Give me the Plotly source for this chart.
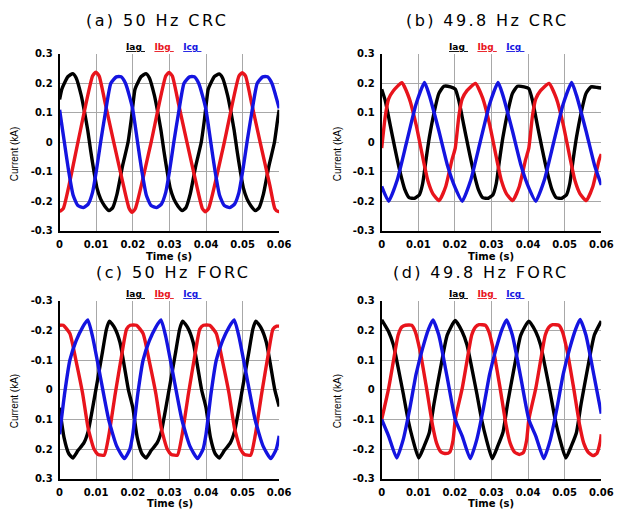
import plotly.graph_objects as go

# ---------------- data ----------------
TIME_TICKS = [0, 0.01, 0.02, 0.03, 0.04, 0.05, 0.06]
TIME_LABELS = ["0", "0.01", "0.02", "0.03", "0.04", "0.05", "0.06"]
CURRENT_TICKS = [0.3, 0.2, 0.1, 0, -0.1, -0.2, -0.3]
CURRENT_LABELS = ["0.3", "0.2", "0.1", "0", "-0.1", "-0.2", "-0.3"]
SERIES_NAMES = ["Iag", "Ibg", "Icg"]
PANEL_TITLES = ["(a) 50 Hz CRC", "(b) 49.8 Hz CRC", "(c) 50 Hz FORC", "(d) 49.8 Hz FORC"]
X_TITLE = "Time (s)"
Y_TITLE = "Current (kA)"

# (a) 50 Hz CRC
A_IAG_T = [0.0000, 0.0006, 0.0014, 0.0023, 0.0036, 0.0045, 0.0059, 0.0068, 0.0077, 0.0085, 0.0094, 0.0102, 0.0112, 0.0123, 0.0135, 0.0145, 0.0157, 0.0172, 0.0187, 0.0196,
           0.0206, 0.0214, 0.0223, 0.0236, 0.0245, 0.0259, 0.0268, 0.0277, 0.0285, 0.0294, 0.0302, 0.0312, 0.0323, 0.0335, 0.0345, 0.0357, 0.0372, 0.0387, 0.0396,
           0.0406, 0.0414, 0.0423, 0.0436, 0.0445, 0.0459, 0.0468, 0.0477, 0.0485, 0.0494, 0.0502, 0.0512, 0.0523, 0.0535, 0.0545, 0.0557, 0.0572, 0.0587, 0.0596, 0.0600]
A_IAG = [0.145, 0.180, 0.203, 0.223, 0.233, 0.219, 0.159, 0.103, 0.040, -0.030, -0.100, -0.155, -0.192, -0.216, -0.232, -0.222, -0.175, -0.080, 0.000, 0.080,
         0.180, 0.203, 0.223, 0.233, 0.219, 0.159, 0.103, 0.040, -0.030, -0.100, -0.155, -0.192, -0.216, -0.232, -0.222, -0.175, -0.080, 0.000, 0.080,
         0.180, 0.203, 0.223, 0.232, 0.219, 0.159, 0.103, 0.040, -0.030, -0.100, -0.155, -0.192, -0.216, -0.232, -0.222, -0.175, -0.080, 0.000, 0.080, 0.110]
A_IBG_T = [0.0000, 0.0010, 0.0050, 0.0090, 0.0099, 0.0108, 0.0125, 0.0148, 0.0175, 0.0190, 0.0198, 0.0207, 0.0250, 0.0290, 0.0299, 0.0308,
           0.0325, 0.0348, 0.0375, 0.0390, 0.0398, 0.0407, 0.0450, 0.0490, 0.0499, 0.0508, 0.0525, 0.0548, 0.0575, 0.0588, 0.0597, 0.0600]
A_IBG = [-0.235, -0.225, 0.000, 0.225, 0.238, 0.225, 0.130, 0.000, -0.150, -0.225, -0.238, -0.225, 0.000, 0.225, 0.237, 0.225,
         0.130, 0.000, -0.150, -0.225, -0.236, -0.225, 0.000, 0.225, 0.236, 0.225, 0.130, 0.000, -0.150, -0.225, -0.235, -0.235]
A_ICG_T = [0.0000, 0.0013, 0.0025, 0.0037, 0.0050, 0.0065, 0.0078, 0.0090, 0.0100, 0.0112, 0.0125, 0.0140, 0.0155, 0.0168, 0.0180, 0.0190,
           0.0200, 0.0213, 0.0225, 0.0237, 0.0250, 0.0265, 0.0278, 0.0290, 0.0300, 0.0312, 0.0325, 0.0340, 0.0355, 0.0368, 0.0380, 0.0390,
           0.0400, 0.0413, 0.0425, 0.0437, 0.0450, 0.0465, 0.0478, 0.0490, 0.0500, 0.0512, 0.0525, 0.0540, 0.0555, 0.0568, 0.0580, 0.0590, 0.0600]
A_ICG = [0.110, 0.000, -0.100, -0.180, -0.215, -0.222, -0.210, -0.170, -0.100, 0.000, 0.100, 0.200, 0.222, 0.222, 0.200, 0.160,
         0.110, 0.000, -0.100, -0.180, -0.215, -0.222, -0.210, -0.170, -0.100, 0.000, 0.100, 0.200, 0.222, 0.222, 0.200, 0.160,
         0.110, 0.000, -0.100, -0.180, -0.215, -0.222, -0.210, -0.170, -0.100, 0.000, 0.100, 0.200, 0.222, 0.222, 0.200, 0.160, 0.115]

# (b) 49.8 Hz CRC
B_IAG_T = [0.0000, 0.0010, 0.0023, 0.0036, 0.0050, 0.0063, 0.0075, 0.0090, 0.0103, 0.0112, 0.0121, 0.0130, 0.0143, 0.0156, 0.0170, 0.0188,
           0.0201, 0.0211, 0.0224, 0.0237, 0.0251, 0.0264, 0.0276, 0.0291, 0.0304, 0.0313, 0.0322, 0.0331, 0.0344, 0.0357, 0.0371, 0.0389,
           0.0402, 0.0412, 0.0425, 0.0438, 0.0452, 0.0465, 0.0477, 0.0492, 0.0505, 0.0514, 0.0523, 0.0532, 0.0545, 0.0558, 0.0572, 0.0590, 0.0600]
B_IAG = [0.180, 0.140, 0.060, -0.020, -0.100, -0.160, -0.188, -0.190, -0.178, -0.140, -0.060, 0.015, 0.100, 0.165, 0.190, 0.188,
         0.180, 0.140, 0.060, -0.020, -0.100, -0.160, -0.188, -0.190, -0.178, -0.140, -0.060, 0.015, 0.100, 0.165, 0.190, 0.188,
         0.182, 0.142, 0.060, -0.020, -0.100, -0.160, -0.188, -0.190, -0.178, -0.140, -0.060, 0.015, 0.100, 0.165, 0.188, 0.186, 0.184]
B_IBG_T = [0.0000, 0.0010, 0.0019, 0.0032, 0.0055, 0.0075, 0.0094, 0.0112, 0.0126, 0.0140, 0.0157, 0.0175, 0.0192,
           0.0201, 0.0211, 0.0220, 0.0233, 0.0256, 0.0276, 0.0295, 0.0313, 0.0327, 0.0341, 0.0358, 0.0376, 0.0393,
           0.0402, 0.0412, 0.0421, 0.0434, 0.0457, 0.0477, 0.0496, 0.0514, 0.0528, 0.0542, 0.0559, 0.0577, 0.0594, 0.0600]
B_IBG = [-0.020, 0.090, 0.147, 0.175, 0.202, 0.150, 0.060, -0.050, -0.130, -0.175, -0.198, -0.150, -0.060,
         -0.020, 0.090, 0.147, 0.175, 0.200, 0.150, 0.060, -0.050, -0.130, -0.175, -0.198, -0.150, -0.060,
         -0.020, 0.090, 0.147, 0.175, 0.200, 0.150, 0.060, -0.050, -0.130, -0.175, -0.198, -0.150, -0.060, -0.040]
B_ICG_T = [0.0000, 0.0019, 0.0042, 0.0068, 0.0094, 0.0117, 0.0130, 0.0156, 0.0180,
           0.0201, 0.0220, 0.0243, 0.0269, 0.0295, 0.0318, 0.0331, 0.0357, 0.0381,
           0.0402, 0.0421, 0.0444, 0.0470, 0.0496, 0.0519, 0.0532, 0.0558, 0.0582, 0.0600]
B_ICG = [-0.150, -0.200, -0.130, 0.000, 0.130, 0.203, 0.160, 0.040, -0.080,
         -0.155, -0.200, -0.130, 0.000, 0.130, 0.203, 0.160, 0.040, -0.080,
         -0.155, -0.200, -0.130, 0.000, 0.130, 0.203, 0.160, 0.040, -0.080, -0.145]

# (c) 50 Hz FORC (plotted on a reversed current axis)
C_IAG_T = [0.0000, 0.0012, 0.0025, 0.0036, 0.0050, 0.0066, 0.0078, 0.0099, 0.0116, 0.0128, 0.0136, 0.0150, 0.0165, 0.0188,
           0.0200, 0.0212, 0.0225, 0.0236, 0.0250, 0.0266, 0.0278, 0.0299, 0.0316, 0.0328, 0.0336, 0.0350, 0.0365, 0.0388,
           0.0400, 0.0412, 0.0425, 0.0436, 0.0450, 0.0466, 0.0478, 0.0499, 0.0516, 0.0528, 0.0536, 0.0550, 0.0565, 0.0588, 0.0600]
C_IAG = [0.060, 0.160, 0.215, 0.230, 0.205, 0.180, 0.140, 0.000, -0.120, -0.205, -0.232, -0.210, -0.160, 0.000,
         0.060, 0.160, 0.215, 0.230, 0.205, 0.180, 0.140, 0.000, -0.120, -0.205, -0.232, -0.210, -0.160, 0.000,
         0.060, 0.160, 0.215, 0.230, 0.205, 0.180, 0.140, 0.000, -0.120, -0.205, -0.232, -0.210, -0.160, 0.000, 0.056]
C_IBG_T = [0.0000, 0.0010, 0.0028, 0.0045, 0.0063, 0.0078, 0.0094, 0.0105, 0.0122, 0.0135, 0.0152, 0.0170, 0.0183, 0.0193,
           0.0210, 0.0228, 0.0245, 0.0263, 0.0278, 0.0294, 0.0305, 0.0322, 0.0335, 0.0352, 0.0370, 0.0383, 0.0393,
           0.0410, 0.0428, 0.0445, 0.0463, 0.0478, 0.0494, 0.0505, 0.0522, 0.0535, 0.0552, 0.0570, 0.0583, 0.0593, 0.0600]
C_IBG = [-0.218, -0.218, -0.190, -0.097, 0.013, 0.130, 0.200, 0.218, 0.220, 0.150, 0.013, -0.120, -0.205, -0.218,
         -0.218, -0.190, -0.097, 0.013, 0.130, 0.200, 0.218, 0.220, 0.150, 0.013, -0.120, -0.205, -0.218,
         -0.218, -0.190, -0.097, 0.013, 0.130, 0.200, 0.218, 0.220, 0.150, 0.013, -0.120, -0.205, -0.215, -0.215]
C_ICG_T = [0.0000, 0.0014, 0.0028, 0.0045, 0.0063, 0.0077, 0.0090, 0.0112, 0.0134, 0.0156, 0.0177, 0.0192,
           0.0200, 0.0214, 0.0228, 0.0245, 0.0263, 0.0277, 0.0290, 0.0312, 0.0334, 0.0356, 0.0377, 0.0392,
           0.0400, 0.0414, 0.0428, 0.0445, 0.0463, 0.0477, 0.0490, 0.0512, 0.0534, 0.0556, 0.0577, 0.0592, 0.0600]
C_ICG = [0.150, 0.010, -0.100, -0.165, -0.212, -0.236, -0.180, -0.040, 0.100, 0.190, 0.232, 0.200,
         0.150, 0.010, -0.100, -0.165, -0.212, -0.236, -0.180, -0.040, 0.100, 0.190, 0.232, 0.200,
         0.150, 0.010, -0.100, -0.165, -0.212, -0.236, -0.180, -0.040, 0.100, 0.190, 0.232, 0.200, 0.155]

# (d) 49.8 Hz FORC
D_IAG_T = [0.0000, 0.0019, 0.0032, 0.0045, 0.0059, 0.0072, 0.0085, 0.0101, 0.0116, 0.0130, 0.0143, 0.0161, 0.0179,
           0.0201, 0.0220, 0.0233, 0.0246, 0.0260, 0.0273, 0.0286, 0.0302, 0.0317, 0.0331, 0.0344, 0.0362, 0.0380,
           0.0402, 0.0421, 0.0434, 0.0447, 0.0461, 0.0474, 0.0487, 0.0503, 0.0518, 0.0532, 0.0545, 0.0563, 0.0581, 0.0600]
D_IAG = [0.236, 0.196, 0.152, 0.075, -0.013, -0.100, -0.167, -0.230, -0.190, -0.145, -0.046, 0.075, 0.185,
         0.234, 0.196, 0.152, 0.075, -0.013, -0.100, -0.167, -0.232, -0.190, -0.145, -0.046, 0.075, 0.185,
         0.232, 0.196, 0.152, 0.075, -0.013, -0.100, -0.167, -0.230, -0.190, -0.145, -0.046, 0.075, 0.185, 0.232]
D_IBG_T = [0.0000, 0.0019, 0.0032, 0.0045, 0.0055, 0.0065, 0.0082, 0.0092, 0.0105, 0.0122, 0.0139, 0.0150, 0.0162, 0.0175, 0.0186, 0.0195,
           0.0201, 0.0220, 0.0233, 0.0246, 0.0256, 0.0266, 0.0283, 0.0293, 0.0306, 0.0323, 0.0340, 0.0351, 0.0363, 0.0376, 0.0387, 0.0396,
           0.0402, 0.0421, 0.0434, 0.0447, 0.0457, 0.0467, 0.0484, 0.0494, 0.0507, 0.0524, 0.0541, 0.0552, 0.0564, 0.0577, 0.0588, 0.0597, 0.0600]
D_IBG = [-0.100, 0.005, 0.097, 0.185, 0.212, 0.218, 0.218, 0.196, 0.130, 0.010, -0.120, -0.180, -0.210, -0.215, -0.210, -0.170,
         -0.100, 0.005, 0.097, 0.185, 0.212, 0.220, 0.218, 0.196, 0.130, 0.010, -0.120, -0.180, -0.210, -0.218, -0.212, -0.170,
         -0.100, 0.005, 0.097, 0.185, 0.212, 0.220, 0.218, 0.196, 0.130, 0.010, -0.120, -0.180, -0.210, -0.222, -0.215, -0.175, -0.150]
D_ICG_T = [0.0000, 0.0019, 0.0041, 0.0059, 0.0076, 0.0094, 0.0112, 0.0128, 0.0140, 0.0156, 0.0179,
           0.0201, 0.0220, 0.0242, 0.0260, 0.0277, 0.0295, 0.0313, 0.0329, 0.0341, 0.0357, 0.0380,
           0.0402, 0.0421, 0.0443, 0.0461, 0.0478, 0.0496, 0.0514, 0.0530, 0.0542, 0.0558, 0.0581, 0.0600]
D_ICG = [-0.100, -0.156, -0.230, -0.167, -0.068, 0.053, 0.141, 0.205, 0.236, 0.185, 0.042,
         -0.100, -0.156, -0.232, -0.167, -0.068, 0.053, 0.141, 0.205, 0.236, 0.185, 0.042,
         -0.100, -0.156, -0.232, -0.167, -0.068, 0.053, 0.141, 0.205, 0.238, 0.185, 0.042, -0.080]

# ---------------- styling / layout ----------------
W, H = 625, 516
COLORS = ["#000000", "#e8141c", "#1414e0"]
GRID = "#a8a8a8"
TICKFONT = dict(family="DejaVu Sans", size=10, color="black", weight="bold")

PANELS = [
    dict(title=PANEL_TITLES[0], series=[(A_IAG_T, A_IAG), (A_IBG_T, A_IBG), (A_ICG_T, A_ICG)], reverse=False,
         box=(58, 283, 49, 230), title_xy=(158, 15), legend_xy=(164, 42), ytitle_xy=(12, 152), xtitle_xy=(170, 256)),
    dict(title=PANEL_TITLES[1], series=[(B_IAG_T, B_IAG), (B_IBG_T, B_IBG), (B_ICG_T, B_ICG)], reverse=False,
         box=(388, 613, 49, 230), title_xy=(496, 15), legend_xy=(495, 42), ytitle_xy=(343, 152), xtitle_xy=(500, 256)),
    dict(title=PANEL_TITLES[2], series=[(C_IAG_T, C_IAG), (C_IBG_T, C_IBG), (C_ICG_T, C_ICG)], reverse=True,
         box=(58, 283, 302, 484), title_xy=(174, 273), legend_xy=(164, 295), ytitle_xy=(12, 405), xtitle_xy=(171, 509)),
    dict(title=PANEL_TITLES[3], series=[(D_IAG_T, D_IAG), (D_IBG_T, D_IBG), (D_ICG_T, D_ICG)], reverse=False,
         box=(388, 613, 302, 484), title_xy=(490, 273), legend_xy=(495, 295), ytitle_xy=(343, 405), xtitle_xy=(500, 509)),
]

fig = go.Figure()
annotations = []
legend_text = "   ".join(
    f'<span style="color:{c}"><u>{n}\u00a0</u></span>' for n, c in zip(SERIES_NAMES, COLORS)
)

for i, p in enumerate(PANELS):
    sfx = "" if i == 0 else str(i + 1)
    x0, x1, y0, y1 = p["box"]
    fig.update_layout(**{
        f"xaxis{sfx}": dict(domain=[x0 / W, x1 / W], anchor=f"y{sfx}", range=[0, 0.06],
                            tickvals=TIME_TICKS, ticktext=TIME_LABELS, tickfont=TICKFONT,
                            showgrid=True, gridcolor=GRID, gridwidth=1, zeroline=False,
                            showline=True, linecolor="black", linewidth=2, ticks="",
                            ticklabelstandoff=3, fixedrange=True),
        f"yaxis{sfx}": dict(domain=[1 - y1 / H, 1 - y0 / H], anchor=f"x{sfx}",
                            range=[0.3, -0.3] if p["reverse"] else [-0.3, 0.3],
                            tickvals=CURRENT_TICKS, ticktext=CURRENT_LABELS, tickfont=TICKFONT,
                            showgrid=True, gridcolor=GRID, gridwidth=1, zeroline=False,
                            showline=True, linecolor="black", linewidth=2, ticks="",
                            ticklabelstandoff=3, fixedrange=True),
    })
    for (t, v), name, color in zip(p["series"], SERIES_NAMES, COLORS):
        fig.add_trace(go.Scatter(x=t, y=v, mode="lines", name=name, showlegend=False,
                                 line=dict(color=color, width=3.4, shape="spline", smoothing=0.5),
                                 xaxis=f"x{sfx}", yaxis=f"y{sfx}"))
    tx, ty = p["title_xy"]
    annotations.append(dict(text=f'<span style="letter-spacing:2.4px">{p["title"]}</span>',
                            x=tx / W, y=1 - ty / H, xref="paper", yref="paper",
                            xanchor="center", yanchor="middle", showarrow=False,
                            font=dict(family="DejaVu Sans", size=16, color="black")))
    lx, ly = p["legend_xy"]
    annotations.append(dict(text=legend_text, x=lx / W, y=1 - ly / H, xref="paper", yref="paper",
                            xanchor="center", yanchor="middle", showarrow=False,
                            font=dict(family="DejaVu Sans", size=9, color="black", weight="bold")))
    yx, yy = p["ytitle_xy"]
    annotations.append(dict(text=Y_TITLE, x=yx / W, y=1 - yy / H, xref="paper", yref="paper",
                            xanchor="center", yanchor="middle", showarrow=False, textangle=-90,
                            font=dict(family="Liberation Sans Narrow, Liberation Sans", size=10, color="black")))
    xx, xy = p["xtitle_xy"]
    annotations.append(dict(text=X_TITLE, x=xx / W, y=1 - xy / H, xref="paper", yref="paper",
                            xanchor="center", yanchor="middle", showarrow=False,
                            font=dict(family="DejaVu Sans", size=10, color="black", weight="bold")))

fig.update_layout(width=W, height=H, margin=dict(l=0, r=0, t=0, b=0),
                  paper_bgcolor="white", plot_bgcolor="white", annotations=annotations,
                  showlegend=False)

fig.write_html("out.html", config={"displayModeBar": False})
